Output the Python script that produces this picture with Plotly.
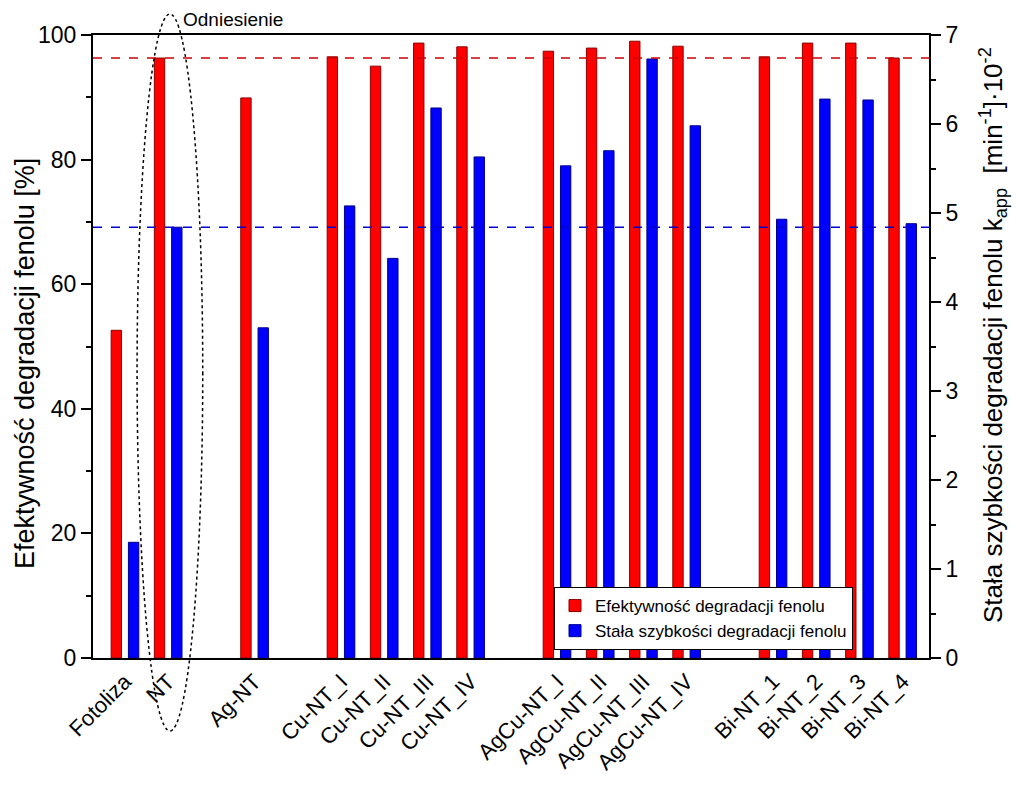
import plotly.graph_objects as go

categories = ["Fotoliza", "NT", " ", "Ag-NT", "  ",
              "Cu-NT_I", "Cu-NT_II", "Cu-NT_III", "Cu-NT_IV", "   ",
              "AgCu-NT_I", "AgCu-NT_II", "AgCu-NT_III", "AgCu-NT_IV", "    ",
              "Bi-NT_1", "Bi-NT_2", "Bi-NT_3", "Bi-NT_4"]
efficiency = [52.6, 96.3, None, 89.9, None,
              96.5, 95.0, 98.7, 98.1, None,
              97.4, 97.9, 99.0, 98.2, None,
              96.5, 98.7, 98.7, 96.3]
rate_const = [1.30, 4.84, None, 3.71, None,
              5.08, 4.49, 6.18, 5.63, None,
              5.53, 5.70, 6.73, 5.98, None,
              4.93, 6.28, 6.27, 4.88]
ref_efficiency = 96.3
ref_rate = 4.84
tick_labels = [c for c in categories if c.strip()]

FONT = "Liberation Sans, Arial, sans-serif"
OFF = 8  # page body margin
W, H = 1024 - 2 * OFF, 785 - 2 * OFF
# plot area in page pixels
PL, PR, PT, PB = 93, 929, 35, 658
L, R, T, B = PL - OFF, W - (PR - OFF), PT - OFF, H - (PB - OFF)
PW, PH = PR - PL, PB - PT

def px_x(px):
    return (px - PL) / PW

def px_y(py):
    return (PB - py) / PH

fig = go.Figure()
fig.add_trace(go.Bar(
    x=categories, y=efficiency, name="Efektywność degradacji fenolu",
    marker=dict(color="#FF0000", line=dict(color="#8B0000", width=1)),
    width=0.24, offset=-0.32, yaxis="y"))
fig.add_trace(go.Bar(
    x=categories, y=rate_const, name="Stała szybkości degradacji fenolu",
    marker=dict(color="#0000FF", line=dict(color="#00008B", width=1)),
    width=0.24, offset=0.08, yaxis="y2"))

fig.add_shape(type="line", xref="paper", yref="y", x0=0, x1=1,
              y0=ref_efficiency, y1=ref_efficiency,
              line=dict(color="#CC0000", width=1.5, dash="dash"))
fig.add_shape(type="line", xref="paper", yref="y2", x0=0, x1=1,
              y0=ref_rate, y1=ref_rate,
              line=dict(color="#0000CC", width=1.5, dash="dash"))
nt_idx = categories.index("NT")
fig.add_shape(type="circle", xref="x", yref="paper",
              x0=nt_idx - 0.72, x1=nt_idx + 0.8, y0=px_y(731), y1=px_y(14),
              line=dict(color="black", width=1.5, dash="dot"))
fig.add_annotation(text="Odniesienie", xref="paper", yref="paper",
                   x=px_x(182), y=px_y(OFF), borderpad=0,
                   xanchor="left", yanchor="top", showarrow=False,
                   font=dict(family=FONT, size=19, color="black"))
fig.add_annotation(text="Efektywność degradacji fenolu [%]", xref="paper", yref="paper",
                   x=px_x(25), y=px_y(364), textangle=-90,
                   xanchor="center", yanchor="middle", showarrow=False,
                   font=dict(family=FONT, size=27, color="black"))
fig.add_annotation(text="Stała szybkości degradacji fenolu k<sub>app</sub>  [min<sup>-1</sup>]·10<sup>-2</sup>",
                   xref="paper", yref="paper",
                   x=px_x(993), y=px_y(335), textangle=-90,
                   xanchor="center", yanchor="middle", showarrow=False,
                   font=dict(family=FONT, size=26, color="black"))

fig.update_layout(
    width=W, height=H,
    margin=dict(l=L, r=R, t=T, b=B, autoexpand=False),
    plot_bgcolor="white", paper_bgcolor="white",
    font=dict(family=FONT, color="black"),
    barmode="overlay",
    showlegend=True,
    legend=dict(x=px_x(554), y=px_y(587),
                xanchor="left", yanchor="top",
                bgcolor="white", bordercolor="black", borderwidth=1,
                font=dict(family=FONT, size=17, color="black"),
                tracegroupgap=0),
    xaxis=dict(type="category", categoryorder="array", categoryarray=categories,
               tickmode="array", tickvals=tick_labels, ticktext=tick_labels,
               range=[-0.74, 18.61], tickangle=-45, ticks="", automargin=False,
               tickfont=dict(family=FONT, size=22, color="black"),
               showline=True, linecolor="black", linewidth=2, mirror=True,
               showgrid=False, zeroline=False),
    yaxis=dict(range=[0, 100], dtick=20, ticks="outside", ticklen=10, tickwidth=2,
               minor=dict(dtick=10, ticks="outside", ticklen=5, tickwidth=2, tickcolor="black"),
               tickcolor="black", automargin=False,
               tickfont=dict(family=FONT, size=23, color="black"),
               showline=True, linecolor="black", linewidth=2,
               showgrid=False, zeroline=False),
    yaxis2=dict(range=[0, 7], dtick=1, overlaying="y", side="right",
                ticks="outside", ticklen=10, tickwidth=2, tickcolor="black",
                minor=dict(dtick=0.5, ticks="outside", ticklen=5, tickwidth=2, tickcolor="black"),
                tickfont=dict(family=FONT, size=23, color="black"), automargin=False,
                showline=True, linecolor="black", linewidth=2,
                showgrid=False, zeroline=False),
)

fig.write_html("out.html")
